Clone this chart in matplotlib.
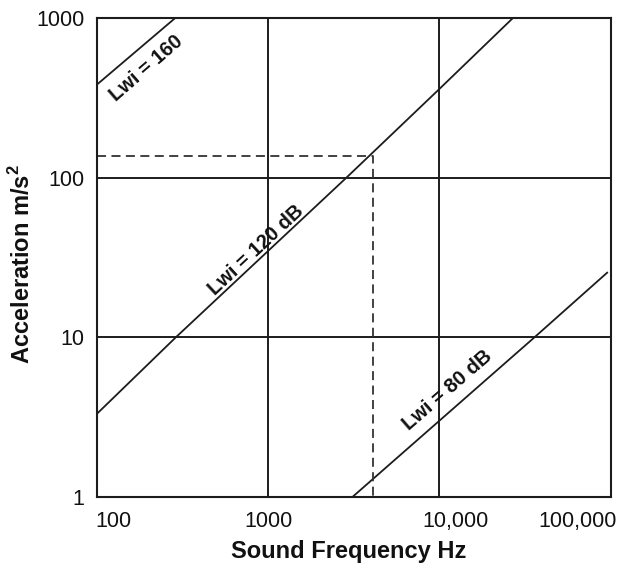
import matplotlib
matplotlib.use("Agg")
import matplotlib.pyplot as plt
from matplotlib.transforms import ScaledTranslation

plt.rcParams['font.family'] = ['Liberation Sans', 'DejaVu Sans']
plt.rcParams['mathtext.fontset'] = 'custom'
plt.rcParams['mathtext.rm'] = 'Liberation Sans'
plt.rcParams['mathtext.bf'] = 'Liberation Sans:bold'

# values
freq_160 = [100, 286]
accel_160 = [383, 1000]
freq_120 = [100, 290, 2865, 10000, 26800]
accel_120 = [3.3, 10, 100, 360, 1000]
freq_80 = [3125, 36000, 95500]
accel_80 = [1, 10, 25.4]
marker_freq = 4100
marker_accel = 137

x_ticks = [100, 1000, 10000, 100000]
x_tick_labels = ["100", "1000", "10,000", "100,000"]
y_ticks = [1, 10, 100, 1000]
y_tick_labels = ["1", "10", "100", "1000"]

ink = "#1c1c1c"

fig = plt.figure(figsize=(6.18, 5.65), dpi=100)
ax = fig.add_axes([0.1565, 0.1209, 0.8315, 0.8467])
ax.set_xscale("log")
ax.set_yscale("log")
ax.set_xlim(100, 100000)
ax.set_ylim(1, 1000)

ax.set_xticks(x_ticks)
ax.set_xticklabels(x_tick_labels)
ax.set_yticks(y_ticks)
ax.set_yticklabels(y_tick_labels)
ax.minorticks_off()
ax.tick_params(length=0, labelsize=15.5, colors="#111111", pad=10)
ax.tick_params(axis="y", pad=9)
ax.grid(True, color=ink, linewidth=1.4)
for sp in ax.spines.values():
    sp.set_color(ink)
    sp.set_linewidth(1.5)

# nudge tick labels like in the original
shifts = [0.17, 0.0, 0.16, -0.33]
for lab, dx in zip(ax.get_xticklabels(), shifts):
    lab.set_transform(lab.get_transform() + ScaledTranslation(dx, 0, fig.dpi_scale_trans))

ax.plot(freq_160, accel_160, color=ink, linewidth=1.3)
ax.plot(freq_120, accel_120, color=ink, linewidth=1.3)
ax.plot(freq_80, accel_80, color=ink, linewidth=1.3)
ax.plot([100, marker_freq, marker_freq], [marker_accel, marker_accel, 1],
        color="#333333", linewidth=1.3, linestyle=(0, (5, 3)))

lab_kw = dict(fontsize=14.5, fontweight="bold", color="#111111", ha="center", va="center")
ax.text(194, 489, "Lwi = 160", rotation=41, **lab_kw)
ax.text(847, 35.3, "Lwi = 120 dB", rotation=43, **lab_kw)
ax.text(11150, 4.67, "Lwi = 80 dB", rotation=41, **lab_kw)

ax.set_xlabel("Sound Frequency Hz", fontsize=17, fontweight="bold", color="#111111")
ax.set_ylabel(r"Acceleration m/s$^\mathbf{2}$", fontsize=17, fontweight="bold", color="#111111")
ax.xaxis.set_label_coords(0.49, -0.091)
ax.yaxis.set_label_coords(-0.12, 0.487)

fig.savefig("out.png", dpi=100)
